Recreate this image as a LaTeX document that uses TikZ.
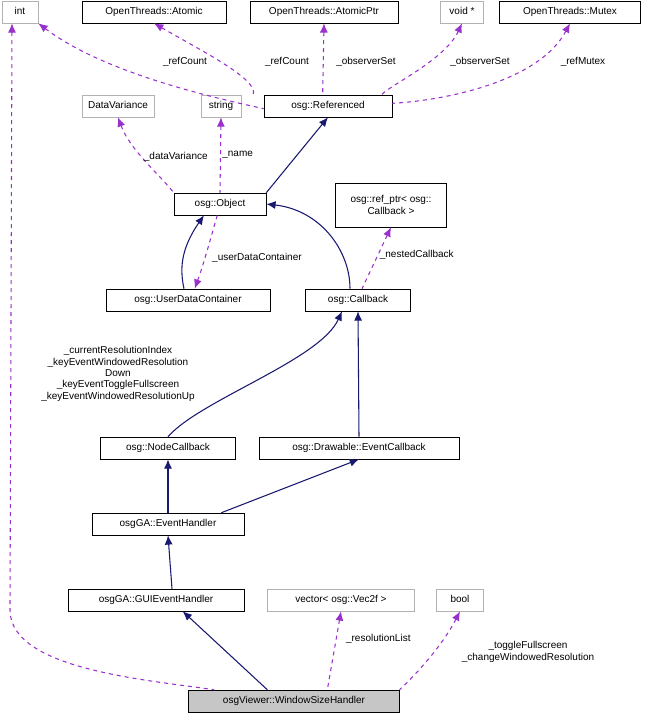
\documentclass[tikz,border=0pt]{standalone}
\usepackage{fontspec}
\setmainfont{Liberation Sans}
\usetikzlibrary{arrows.meta}
\begin{document}
\begin{tikzpicture}[x=0.75pt,y=-0.75pt,
 box/.style={draw=black,fill=white,inner sep=0pt,minimum height=16.5pt,text height=5.6pt,text depth=1.6pt,font=\fontsize{7.5}{8.5}\selectfont,align=center},
 gbox/.style={box,draw=gray!60},
 inh/.style={draw={rgb,255:red,25;green,25;blue,112},thick,{Latex[length=7pt,width=6pt]}-},
 use/.style={draw={rgb,255:red,153;green,50;blue,204},dashed,thick,{Latex[length=7pt,width=6pt]}-},
 lbl/.style={font=\fontsize{7.5}{8.5}\selectfont,align=center,inner sep=1pt}]
\useasboundingbox (0,0) rectangle (670,724);
\node[gbox,minimum width=27pt] (int) at (20,12) {int};
\node[box,minimum width=108pt] (atomic) at (154,12) {OpenThreads::Atomic};
\node[box,minimum width=111pt] (aptr) at (324,12) {OpenThreads::AtomicPtr};
\node[gbox,minimum width=32pt] (void) at (462,12) {void *};
\node[box,minimum width=106pt] (mutex) at (570,12) {OpenThreads::Mutex};
\node[box,minimum width=96pt] (ref) at (328,106) {osg::Referenced};
\node[gbox,minimum width=54pt] (dv) at (118,106) {DataVariance};
\node[gbox,minimum width=30pt] (str) at (221,106) {string};
\node[box,minimum width=69pt] (obj) at (220,204) {osg::Object};
\node[box,minimum width=83pt,minimum height=33pt,text height=,text depth=] (rp) at (391,205) {osg::ref\_ptr< osg::\\Callback >};
\node[box,minimum width=123pt] (udc) at (188,300) {osg::UserDataContainer};
\node[box,minimum width=79pt] (cb) at (358,300) {osg::Callback};
\node[box,minimum width=101pt] (ncb) at (168,448) {osg::NodeCallback};
\node[box,minimum width=150pt] (ecb) at (359,448) {osg::Drawable::EventCallback};
\node[box,minimum width=114pt] (eh) at (168,524) {osgGA::EventHandler};
\node[box,minimum width=132pt] (gui) at (156,600) {osgGA::GUIEventHandler};
\node[gbox,minimum width=110pt] (vec) at (341,600) {vector< osg::Vec2f >};
\node[gbox,minimum width=35pt] (bool) at (460,600) {bool};
\node[box,fill=gray!45,minimum width=158pt] (wsh) at (294,701) {osgViewer::WindowSizeHandler};

\draw[use] (int.south east) .. controls (100,70) and (200,95) .. ([yshift=-2pt]ref.west);
\node[lbl] at (185,62) {\_refCount};
\draw[use] (atomic.south) .. controls (200,50) and (260,80) .. ([xshift=-8pt]ref.north west);
\node[lbl] at (287,62) {\_refCount};
\draw[use] (aptr.south) -- ([xshift=-4pt]ref.north);
\node[lbl] at (366,62) {\_observerSet};
\draw[use] (void.south) .. controls (445,60) and (390,85) .. ([xshift=-8pt]ref.north east);
\node[lbl] at (480,62) {\_observerSet};
\draw[use] (mutex.south) .. controls (540,80) and (450,100) .. ([yshift=2pt]ref.east);
\node[lbl] at (583,62) {\_refMutex};
\draw[inh] (ref.south) -- (obj.north east);
\draw[use] (dv.south) .. controls (130,150) and (160,175) .. (obj.north west) node[lbl,pos=0.45,right]{\_dataVariance};
\draw[use] (str.south) -- (obj.north) node[lbl,pos=0.5,right]{\_name};
\draw[inh] ([xshift=-12pt]obj.south) .. controls (180,250) and (180,270) .. ([xshift=-3pt]udc.north);
\draw[use] ([xshift=5pt]udc.north) .. controls (205,260) and (210,240) .. ([xshift=-2pt]obj.south) node[lbl,pos=0.4,right=4pt]{\_userDataContainer};
\draw[inh] (obj.east) .. controls (320,210) and (350,250) .. ([xshift=-6pt]cb.north);
\draw[use] (rp.south) -- ([xshift=3pt]cb.north) node[lbl,pos=0.45,right]{\_nestedCallback};
\draw[inh] ([xshift=-12pt]cb.south) .. controls (320,360) and (200,400) .. (ncb.north);
\draw[inh] (cb.south) -- (ecb.north);
\draw[inh] (ncb.south) -- (eh.north);
\draw[inh] (ecb.south) -- ([xshift=40pt]eh.north);
\draw[inh] (eh.south) -- ([xshift=12pt]gui.north);
\draw[inh] ([xshift=20pt]gui.south) -- ([xshift=-20pt]wsh.north);
\draw[use] (vec.south) -- ([xshift=25pt]wsh.north) node[lbl,pos=0.35,right=6pt]{\_resolutionList};
\draw[use] (bool.south) .. controls (440,650) and (410,680) .. (wsh.north east);
\node[lbl] at (528,652) {\_toggleFullscreen\\\_changeWindowedResolution};
\draw[use] ([xshift=-6pt]int.south) -- (10,610) .. controls (10,670) and (150,680) .. ([xshift=-60pt]wsh.north);
\node[lbl] at (118,374) {\_currentResolutionIndex\\\_keyEventWindowedResolution\\Down\\\_keyEventToggleFullscreen\\\_keyEventWindowedResolutionUp};
\end{tikzpicture}
\end{document}
